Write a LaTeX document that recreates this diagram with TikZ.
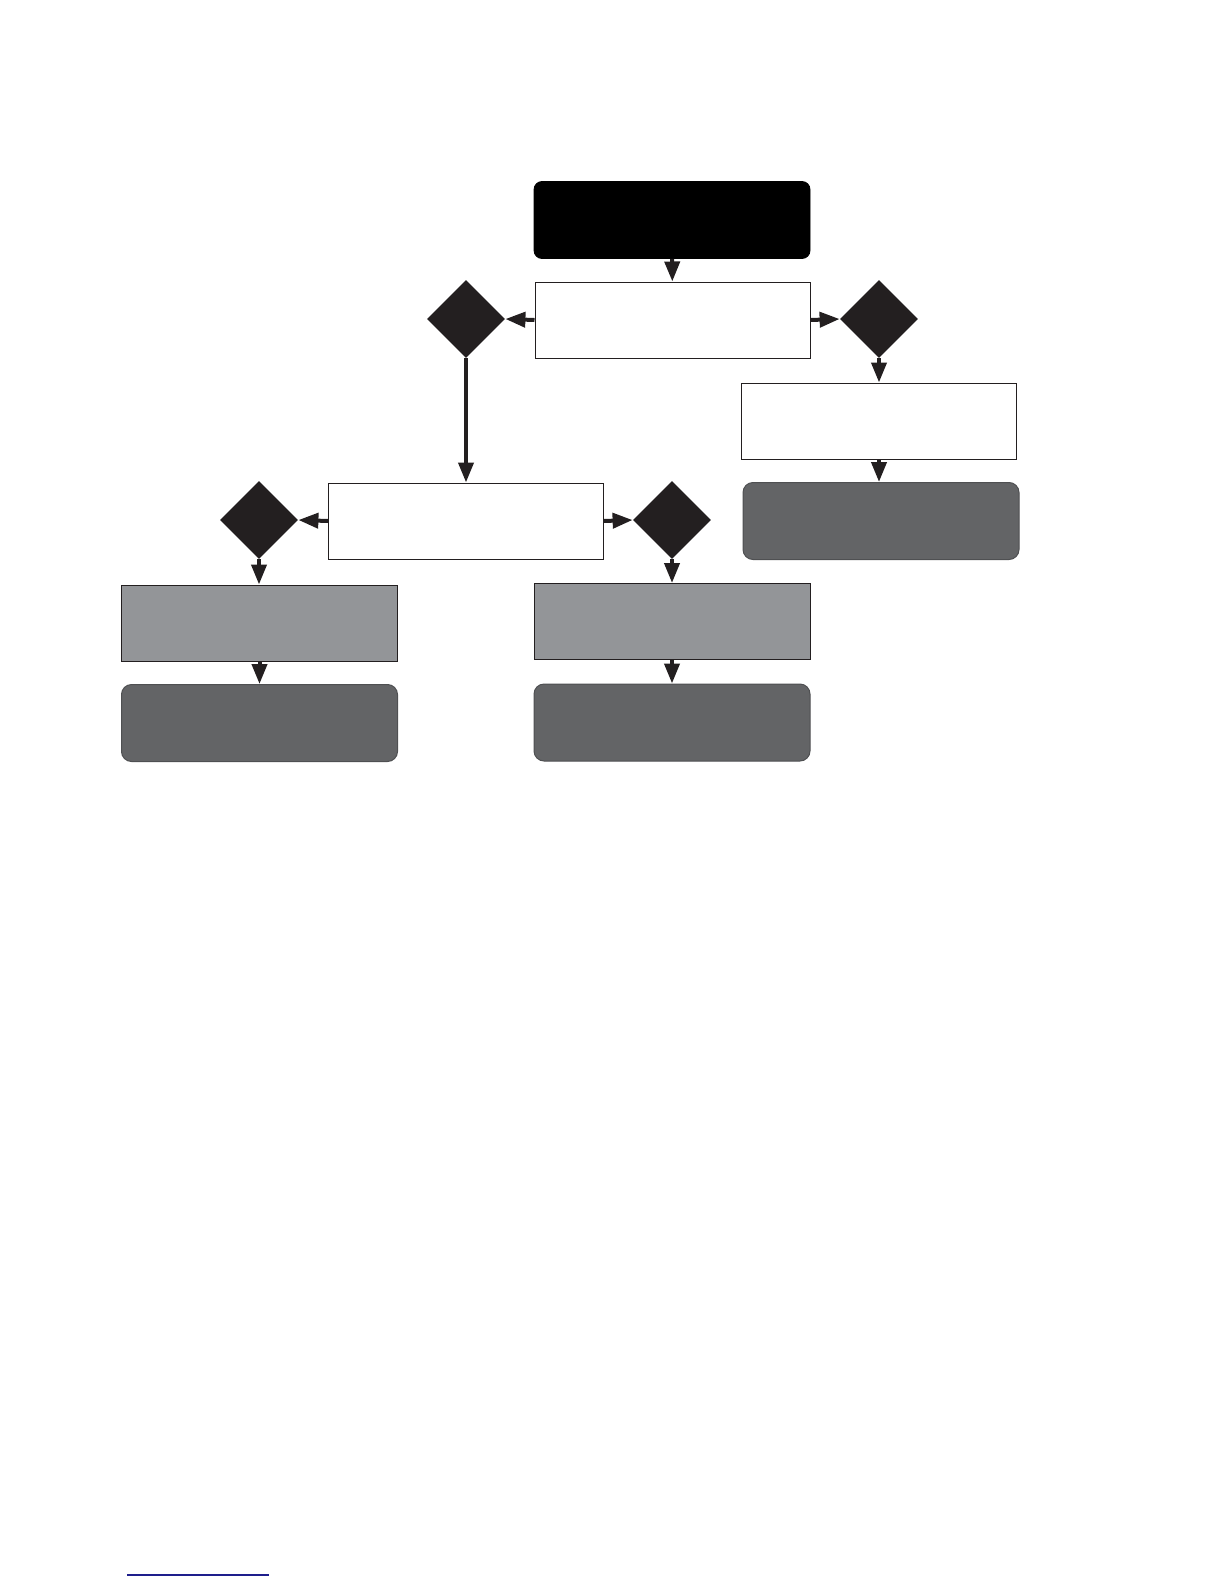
\documentclass[tikz,border=0pt]{standalone}
\usepackage{tikz}
\usetikzlibrary{arrows.meta, positioning, shapes, shapes.geometric}
\definecolor{FlowBlack}{RGB}{35, 31, 32}
\definecolor{FlowLight}{RGB}{147, 149, 152}
\definecolor{FlowDark}{RGB}{99, 100, 102}
\definecolor{LinkBlue}{RGB}{30, 30, 140}
\tikzset{every node/.style={font=\small}, every path/.style={line join=miter}, >={Triangle[length=10pt, width=7.5pt]}}
\tikzset{
    startbox/.style={draw=black, fill=black, rounded corners=4pt, minimum width=138pt, minimum height=38.5pt, inner sep=0pt},
    plainbox/.style={draw=FlowBlack, fill=white, line width=0.5pt, minimum width=137.5pt, minimum height=38pt, inner sep=0pt},
    lightbox/.style={draw=FlowBlack, fill=FlowLight, line width=0.5pt, minimum width=138pt, minimum height=38pt, inner sep=0pt},
    darkbox/.style={draw=FlowDark!80!black, fill=FlowDark, line width=0.5pt, rounded corners=5pt, minimum width=138pt, minimum height=38.5pt, inner sep=0pt},
    decision/.style={diamond, fill=FlowBlack, minimum width=39pt, minimum height=39pt, inner sep=0pt},
    link/.style={->, draw=FlowBlack, line width=2pt}
}

\begin{document}
\begin{tikzpicture}[x=0.5pt, y=-0.5pt]
    \useasboundingbox (0,0) rectangle (1224,1584);
    \node [startbox] (start) at (672,220) {};
    \node [plainbox] (review) at (672.5,320) {};
    \node [decision] (askleft) at (466,319) {};
    \node [decision] (askright) at (879,319) {};
    \node [plainbox] (check) at (879,421) {};
    \node [darkbox] (outright) at (881,521) {};
    \node [plainbox] (assess) at (466,521) {};
    \node [decision] (asklow) at (259,520) {};
    \node [decision] (askhigh) at (672,520) {};
    \node [lightbox] (actleft) at (259.5,623) {};
    \node [darkbox] (outleft) at (259.5,723) {};
    \node [lightbox] (actmid) at (672,621.5) {};
    \node [darkbox] (outmid) at (672,722.5) {};

    \draw [link] (start) -- (review);
    \draw [link] (review.west) -- (askleft.east);
    \draw [link] (review.east) -- (askright.west);
    \draw [link] (askleft.south) -- (assess.north);
    \draw [link] (askright.south) -- (askright.south |- check.north);
    \draw [link] (check.south) -- (check.south |- outright.north);
    \draw [link] (assess.west) -- (asklow.east);
    \draw [link] (assess.east) -- (askhigh.west);
    \draw [link] (asklow.south) -- (asklow.south |- actleft.north);
    \draw [link] (askhigh.south) -- (actmid.north);
    \draw [link] (actleft.south) -- (outleft.north);
    \draw [link] (actmid.south) -- (outmid.north);

    \draw [LinkBlue, line width=0.6pt] (127,1575) -- (269,1575);
\end{tikzpicture}
\end{document}
